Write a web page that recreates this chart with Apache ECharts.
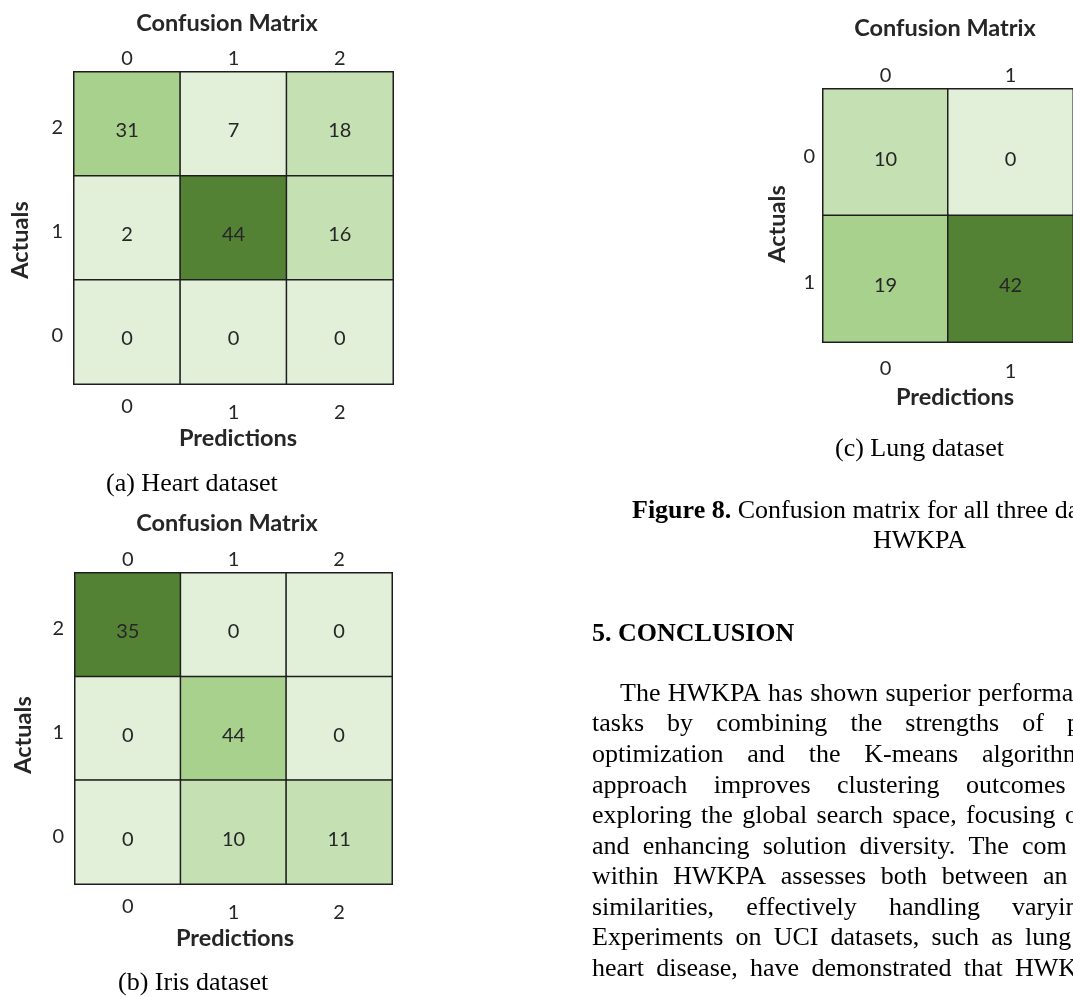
<!DOCTYPE html>
<html>
<head>
<meta charset="utf-8">
<title>Confusion matrices</title>
<script src="https://cdn.jsdelivr.net/npm/echarts@6/dist/echarts.min.js"></script>
<style>
  html, body { margin: 0; padding: 0; background: #ffffff; }
  #page { width: 1073px; height: 997px; }
</style>
</head>
<body>
<div id="page"></div>
<script>
// ---- data: confusion matrices, rows listed top to bottom ----
const heartCols = ['0', '1', '2'];
const heartRows = ['2', '1', '0'];
const heartCounts = [[31, 7, 18], [2, 44, 16], [0, 0, 0]];
const heartShade = [[2, 0, 1], [0, 3, 1], [0, 0, 0]];

const irisCols = ['0', '1', '2'];
const irisRows = ['2', '1', '0'];
const irisCounts = [[35, 0, 0], [0, 44, 0], [0, 10, 11]];
const irisShade = [[3, 0, 0], [0, 2, 0], [0, 1, 1]];

const lungCols = ['0', '1'];
const lungRows = ['0', '1'];
const lungCounts = [[10, 0], [19, 42]];
const lungShade = [[1, 0], [2, 3]];

// ---- text of the page ----
const figureTitle = 'Confusion Matrix';
const xName = 'Predictions';
const yName = 'Actuals';
const captions = ['(a) Heart dataset', '(b) Iris dataset', '(c) Lung dataset'];
const figureCaption = ['Figure 8.', ' Confusion matrix for all three datasets', 'HWKPA'];
const sectionHeading = '5. CONCLUSION';
const bodyLines = [
  'The HWKPA has shown superior performance',
  'tasks by combining the strengths of p',
  'optimization and the K-means algorithm',
  'approach improves clustering outcomes',
  'exploring the global search space, focusing on',
  'and enhancing solution diversity. The com',
  'within HWKPA assesses both between an',
  'similarities, effectively handling varying',
  'Experiments on UCI datasets, such as lung',
  'heart disease, have demonstrated that HWKPA'
];

// ---- styling ----
const shadeColors = ['#e2efd9', '#c5e0b3', '#a9d18e', '#548235'];
const sans = 'Lato';
const serif = '"Liberation Serif", "Times New Roman", serif';
const ink = '#262626';

// plot boxes (left, top, width, height) of the three matrices
const boxes = [
  { left: 74, top: 72, width: 319, height: 312 },
  { left: 75, top: 573, width: 317, height: 311 },
  { left: 823, top: 89, width: 258, height: 253 }
];
const mats = [
  { cols: heartCols, rows: heartRows, counts: heartCounts, shade: heartShade },
  { cols: irisCols, rows: irisRows, counts: irisCounts, shade: irisShade },
  { cols: lungCols, rows: lungRows, counts: lungCounts, shade: lungShade }
];

const grid = [], xAxis = [], yAxis = [], series = [];
mats.forEach((m, k) => {
  grid.push(Object.assign({ containLabel: false }, boxes[k]));
  const common = {
    type: 'category', gridIndex: k, data: m.cols,
    axisLine: { show: false }, axisTick: { show: false }, splitLine: { show: false }
  };
  // top labels
  xAxis.push(Object.assign({}, common, {
    position: 'top',
    axisLabel: { fontFamily: sans, fontSize: 20, color: ink, margin: 3 }
  }));
  // bottom labels, the first one sits a little higher
  xAxis.push(Object.assign({}, common, {
    position: 'bottom',
    axisLabel: {
      fontFamily: sans, fontSize: 20, color: ink, margin: k === 2 ? 17 : 13,
      formatter: (v, i) => (i === 0 ? '{a|' + v + '}' : '{b|' + v + '}'),
      rich: {
        a: { fontFamily: sans, fontSize: 20, color: ink },
        b: { fontFamily: sans, fontSize: 20, color: ink, padding: [k === 2 ? 3 : 6, 0, 0, 0] }
      }
    }
  }));
  yAxis.push({
    type: 'category', gridIndex: k, data: m.rows, inverse: true,
    axisLine: { show: false }, axisTick: { show: false }, splitLine: { show: false },
    axisLabel: {
      fontFamily: sans, fontSize: 20, color: ink, margin: k === 2 ? 8 : 11,
      formatter: v => '{r|' + v + '}',
      rich: { r: { fontFamily: sans, fontSize: 20, color: ink, padding: [8, 0, 0, 0] } }
    }
  });
  const data = [];
  m.counts.forEach((row, i) => row.forEach((v, j) => {
    data.push({ value: [j, i, v], itemStyle: { color: shadeColors[m.shade[i][j]] } });
  }));
  series.push({
    type: 'heatmap', xAxisIndex: 2 * k, yAxisIndex: k, data,
    itemStyle: { borderColor: '#1e1e1e', borderWidth: 1.5 },
    label: {
      show: true, fontFamily: sans, fontSize: 20, color: ink, offset: [0, 7],
      formatter: p => String(p.value[2])
    },
    emphasis: { disabled: true }
  });
});

// ---- free text ----
const graphic = [];
function sansText(text, x, y, opts) {
  graphic.push(Object.assign({
    type: 'text', x, y,
    style: { text, fontFamily: sans, fontSize: 23.5, fontWeight: 'bold', fill: ink, align: 'center', verticalAlign: 'middle' }
  }, opts || {}));
}
[[227, 23], [227, 523], [945, 28]].forEach(p => sansText(figureTitle, p[0], p[1]));
[[238, 438], [235, 938], [955, 397]].forEach(p => sansText(xName, p[0], p[1]));
[[20, 240], [23, 735], [777, 224]].forEach(p => sansText(yName, p[0], p[1], { rotation: Math.PI / 2 }));

// serif text: y values are baselines, converted to em-box middles
const serifFont = '26px ' + serif;
function serifText(text, x, baseline, weight) {
  graphic.push({
    type: 'text', x, y: baseline - 9,
    style: { text, fontFamily: serif, fontSize: 26, fontWeight: weight || 'normal', fill: '#000', align: 'left', verticalAlign: 'middle' }
  });
}
serifText(captions[0], 106, 493);
serifText(captions[1], 118, 992);
serifText(captions[2], 835, 458);
graphic.push({
  type: 'text', x: 632, y: 520 - 9,
  style: {
    text: '{b|' + figureCaption[0] + '}' + figureCaption[1],
    fontFamily: serif, fontSize: 26, fill: '#000', align: 'left', verticalAlign: 'middle',
    rich: { b: { fontFamily: serif, fontSize: 26, fontWeight: 'bold', fill: '#000' } }
  }
});
serifText(figureCaption[2], 873, 550);
serifText(sectionHeading, 592, 643, 'bold');

// justified paragraph: words spread so each line's last word starts at its column position
const measure = document.createElement('canvas').getContext('2d');
measure.font = serifFont;
const lineStarts = [620, 592, 592, 592, 592, 592, 592, 592, 592, 592];
const lastWordX = [978, 1067, 982, 966, 1065, 1022, 1043, 1012, 1025, 1015];
bodyLines.forEach((line, i) => {
  const words = line.split(' ');
  const widths = words.map(w => measure.measureText(w).width);
  const before = widths.slice(0, -1).reduce((a, b) => a + b, 0);
  const gap = (lastWordX[i] - lineStarts[i] - before) / (words.length - 1);
  let x = lineStarts[i];
  const baseline = 703 + i * 30.56;
  words.forEach((w, j) => {
    serifText(w, x, baseline);
    x += widths[j] + gap;
  });
});

const chart = echarts.init(document.getElementById('page'), null, { renderer: 'canvas' });
chart.setOption({
  backgroundColor: '#ffffff',
  animation: false,
  grid, xAxis, yAxis, series, graphic
});
</script>
</body>
</html>
